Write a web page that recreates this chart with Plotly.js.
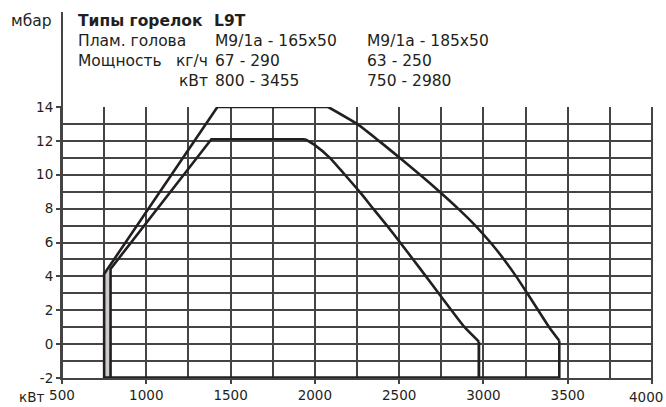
<!DOCTYPE html>
<html>
<head>
<meta charset="utf-8">
<script src="https://cdn.plot.ly/plotly-3.0.1.min.js"></script>
<style>html,body{margin:0;padding:0;background:#fff;}#chart{width:666px;height:407px;}</style>
</head>
<body>
<div id="chart"></div>
<script>
// ---- data ----
// Head M9/1a - 165x50 (outer working range), kW vs mbar
const outerEdgeX = [750, 750, 1422, 2079];
const outerEdgeY = [-2, 4.14, 14, 14];
const outerCurveX = [2079, 2250, 2380, 2503, 2624, 2740, 2850, 2952, 3042, 3122, 3194, 3260, 3325, 3390, 3450];
const outerCurveY = [14, 13, 12, 11, 10, 9, 8, 7, 6, 5, 4, 3, 2, 1, 0.2];
const outerEndX = [3450, 3450];
const outerEndY = [0.2, -2];
// Head M9/1a - 185x50 (inner working range)
const innerEdgeX = [788, 788, 1386, 1941];
const innerEdgeY = [-2, 4.44, 12.1, 12.1];
const innerCurveX = [1941, 2000, 2089, 2178, 2265, 2346, 2428, 2506, 2583, 2659, 2734, 2810, 2888, 2973];
const innerCurveY = [12.1, 11.75, 11, 10, 9, 8, 7, 6, 5, 4, 3, 2, 1, 0.15];
const innerEndX = [2973, 2973];
const innerEndY = [0.15, -2];
// shaded strip between the two minimum-output lines
const shadeX = [750, 750, 788, 788, 750];
const shadeY = [-2, 4.14, 4.44, -2, -2];
// base line
const baseX = [750, 3450];
const baseY = [-2, -2];

const xTickVals = [500, 1000, 1500, 2000, 2500, 3000, 3500, 4000];
const xTickText = ['500', '1000', '1500', '2000', '2500', '3000', '3500', '4000'];
const yTickVals = [-2, 0, 2, 4, 6, 8, 10, 12, 14];
const yTickText = ['-2', '0', '2', '4', '6', '8', '10', '12', '14'];
const xGridStep = 250;
const yGridStep = 1;

const headerTitle = 'Типы горелок';
const headerModel = 'L9T';
const rowHead = ['Плам. голова', 'M9/1a - 165x50', 'M9/1a - 185x50'];
const rowKg = ['Мощность', 'кг/ч', '67 - 290', '63 - 250'];
const rowKw = ['кВт', '800 - 3455', '750 - 2980'];
const yUnit = 'мбар';
const xUnit = 'кВт';

// ---- layout helpers (pixel -> paper) ----
const W = 666, H = 407;
const M = {l: 62, r: 14, t: 107, b: 29};
const PW = W - M.l - M.r, PH = H - M.t - M.b;
const px = v => (v - M.l) / PW;
const py = v => (H - M.b - v) / PH;

const FONT = 'DejaVu Sans, Liberation Sans, Arial, sans-serif';
const INK = '#231f20';
const GRID = '#444444';
const GW = 2;
const X_RANGE = [500, 4000], Y_RANGE = [-2, 14];

function line(x, y, w, shape, axes) {
  return Object.assign({x: x, y: y, mode: 'lines', line: {color: INK, width: w, shape: shape || 'linear', smoothing: 0.6}, hoverinfo: 'skip'}, axes || {});
}

const traces = [
  {x: shadeX, y: shadeY, mode: 'lines', fill: 'toself', fillcolor: '#cbcbcb', line: {width: 0}, hoverinfo: 'skip'},
  line(outerEdgeX, outerEdgeY, 2.6),
  line(outerCurveX, outerCurveY, 2.6, 'spline'),
  line(outerEndX, outerEndY, 2.6),
  line(innerEdgeX, innerEdgeY, 2.6),
  line(innerCurveX, innerCurveY, 2.6, 'spline'),
  line(innerEndX, innerEndY, 2.8),
  line(baseX, baseY, 3.6, 'linear', {xaxis: 'x2', yaxis: 'y2'})
];

function ann(text, xp, yp, anchor, opts) {
  return Object.assign({
    text: text, xref: 'paper', yref: 'paper', x: px(xp), y: py(yp),
    xanchor: anchor, yanchor: 'middle', showarrow: false,
    font: {family: FONT, size: 15.5, color: INK}
  }, opts || {});
}

const tickFont = {family: FONT, size: 13.5, color: INK};
const lastX = xTickText.length - 1;

const annotations = [
  ann(yUnit, 54, 20.5, 'right'),
  ann('<b>' + headerTitle + '</b>', 76, 20.5, 'left'),
  ann('<b>' + headerModel + '</b>', 212, 20.5, 'left'),
  ann(rowHead[0], 76, 40.5, 'left'),
  ann(rowHead[1], 213, 40.5, 'left'),
  ann(rowHead[2], 365, 40.5, 'left'),
  ann(rowKg[0], 76, 60.5, 'left'),
  ann(rowKg[1], 210, 60.5, 'right'),
  ann(rowKg[2], 213, 60.5, 'left'),
  ann(rowKg[3], 365, 60.5, 'left'),
  ann(rowKw[0], 210, 80.5, 'right'),
  ann(rowKw[1], 213, 80.5, 'left'),
  ann(rowKw[2], 365, 80.5, 'left'),
  ann(xUnit, 46, 396.5, 'right', {font: tickFont}),
  // last x tick label sits flush with the right edge, as in the reference
  ann(xTickText[lastX], 665, 396.5, 'right', {font: tickFont})
];

const layout = {
  width: W, height: H,
  margin: M,
  paper_bgcolor: '#fff', plot_bgcolor: '#fff',
  showlegend: false,
  hovermode: false,
  font: tickFont,
  // grid axes
  xaxis: {
    range: X_RANGE, tickmode: 'linear', tick0: X_RANGE[0], dtick: xGridStep,
    showticklabels: false, ticks: '',
    showgrid: true, gridcolor: GRID, gridwidth: GW,
    showline: true, linecolor: GRID, linewidth: GW,
    zeroline: false, fixedrange: true
  },
  yaxis: {
    range: Y_RANGE, tickmode: 'linear', tick0: Y_RANGE[0], dtick: yGridStep,
    showticklabels: false, ticks: '',
    showgrid: true, gridcolor: GRID, gridwidth: GW,
    showline: true, linecolor: GRID, linewidth: GW,
    zeroline: false, fixedrange: true
  },
  // labelled axes
  xaxis2: {
    overlaying: 'x', anchor: 'y2', side: 'bottom',
    range: X_RANGE, tickmode: 'array', tickvals: xTickVals,
    ticktext: xTickText.map((t, i) => i === lastX ? '' : t),
    ticks: 'outside', ticklen: 5, tickwidth: GW, tickcolor: GRID,
    showgrid: false, showline: false, zeroline: false, fixedrange: true
  },
  yaxis2: {
    overlaying: 'y', anchor: 'x2', side: 'left',
    range: Y_RANGE, tickmode: 'array', tickvals: yTickVals, ticktext: yTickText,
    ticks: 'outside', ticklen: 5, tickwidth: GW, tickcolor: GRID,
    showgrid: false, showline: false, zeroline: false, fixedrange: true
  },
  shapes: [
    {type: 'line', xref: 'paper', yref: 'paper', x0: 0, x1: 0, y0: 0, y1: py(12), line: {color: GRID, width: GW}},
    {type: 'line', xref: 'paper', yref: 'paper', x0: 1, x1: 1, y0: py(H - M.b + 5), y1: 1, line: {color: GRID, width: GW}}
  ],
  annotations: annotations
};

Plotly.newPlot('chart', traces, layout, {displayModeBar: false});
</script>
</body>
</html>
